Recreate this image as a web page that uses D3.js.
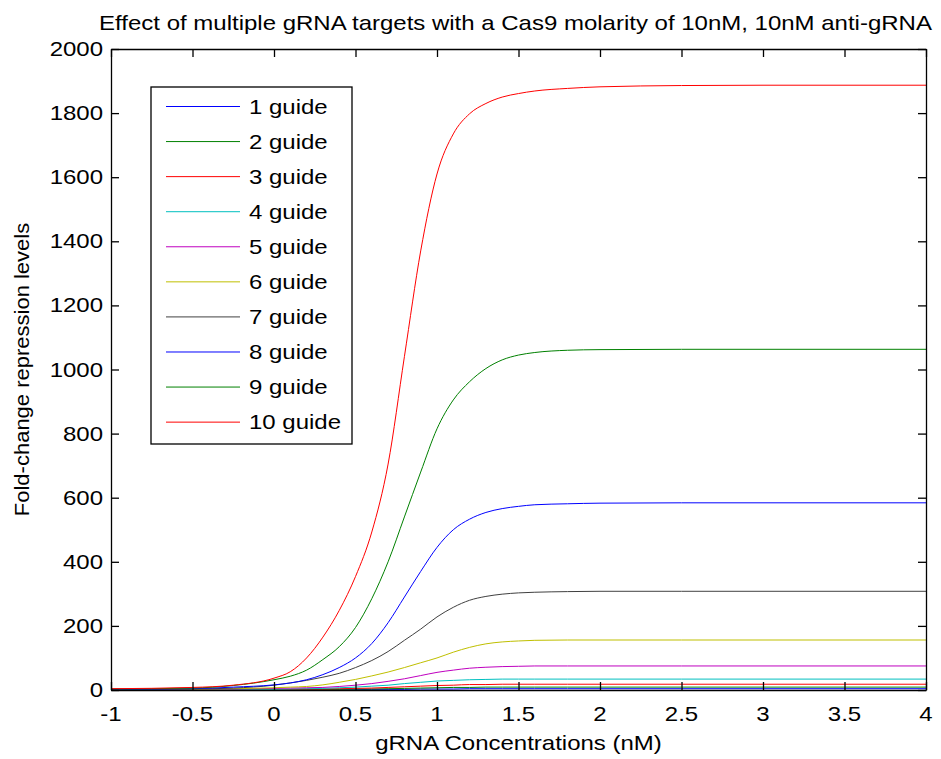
<!DOCTYPE html>
<html>
<head>
<meta charset="utf-8">
<script src="https://cdn.jsdelivr.net/npm/d3@7"></script>
<style>
  html, body { margin: 0; padding: 0; background: #fff; }
  svg { display: block; }
  text { font-family: "Liberation Sans", Arial, sans-serif; fill: #000; }
</style>
</head>
<body>
<svg id="chart" width="941" height="759"></svg>
<script>
// ---- data ----
const titleText = "Effect of multiple gRNA targets with a Cas9 molarity of 10nM, 10nM anti-gRNA";
const xLabel = "gRNA Concentrations (nM)";
const yLabel = "Fold-change repression levels";
const xTicks = [-1, -0.5, 0, 0.5, 1, 1.5, 2, 2.5, 3, 3.5, 4];
const xTickLabels = ["-1", "-0.5", "0", "0.5", "1", "1.5", "2", "2.5", "3", "3.5", "4"];
const yTicks = [0, 200, 400, 600, 800, 1000, 1200, 1400, 1600, 1800, 2000];
const yTickLabels = ["0", "200", "400", "600", "800", "1000", "1200", "1400", "1600", "1800", "2000"];
const seriesNames = ["1 guide", "2 guide", "3 guide", "4 guide", "5 guide", "6 guide", "7 guide", "8 guide", "9 guide", "10 guide"];
const xGrid = [-1, -0.5, -0.25, 0, 0.1, 0.2, 0.3, 0.4, 0.5, 0.6, 0.7, 0.8, 0.9, 1.0, 1.1, 1.2, 1.3, 1.4, 1.5, 1.6, 1.8, 2, 2.5, 3, 4];
const guide1  = [0, 0, 1, 1, 1, 1, 1, 1, 1, 2, 2, 2, 3, 3, 3, 4, 4, 4, 4, 4, 4, 4, 4, 4, 4];
const guide2  = [0, 1, 1, 1, 1, 2, 2, 2, 3, 3, 4, 5, 6, 7, 8, 8, 9, 9, 9, 9, 9, 9, 9, 9, 9];
const guide3  = [1, 1, 1, 2, 2, 3, 3, 4, 5, 6, 8, 10, 12, 14, 15, 17, 17, 18, 18, 18, 18, 18, 18, 18, 18];
const guide4  = [1, 1, 2, 2, 3, 4, 5, 7, 9, 12, 15, 20, 24, 28, 30, 32, 33, 34, 34, 34, 34, 34, 34, 34, 34];
const guide5  = [1, 2, 3, 5, 6, 7, 8, 11, 15, 20, 27, 35, 45, 55, 62, 68, 71, 73, 74, 75, 75, 75, 75, 75, 75];
const guide6  = [1, 2, 4, 7, 9, 11, 16, 24, 33, 44, 56, 70, 85, 100, 118, 133, 144, 150, 153, 155, 156, 156, 156, 156, 156];
const guide7  = [2, 3, 6, 15, 22, 30, 40, 52, 70, 92, 120, 155, 190, 228, 258, 280, 292, 299, 303, 305, 307, 308, 308, 308, 308];
const guide8  = [2, 4, 9, 16, 22, 32, 48, 70, 100, 145, 210, 290, 370, 445, 500, 533, 554, 566, 573, 578, 581, 583, 584, 584, 584];
const guide9  = [3, 6, 14, 32, 43, 62, 95, 135, 195, 285, 400, 540, 680, 815, 905, 962, 1003, 1030, 1045, 1053, 1060, 1062, 1063, 1063, 1063];
const guide10 = [4, 8, 15, 37, 57, 100, 165, 248, 354, 493, 705, 1040, 1370, 1610, 1735, 1798, 1830, 1850, 1861, 1869, 1877, 1882, 1886, 1887, 1887];
const seriesValues = [guide1, guide2, guide3, guide4, guide5, guide6, guide7, guide8, guide9, guide10];

// ---- styles ----
const colors = ["#0000FF", "#008000", "#FF0000", "#00BFBF", "#BF00BF", "#BFBF00", "#404040", "#0000FF", "#008000", "#FF0000"];
const fs = 20;        // font size (glyph height)
const sx = 1.2;       // horizontal glyph stretch seen in the reference
const tickLen = 8;

const svg = d3.select("#chart");
const plot = { left: 111, right: 926, top: 49, bottom: 690 };

const x = d3.scaleLinear().domain([-1, 4]).range([plot.left, plot.right]);
const y = d3.scaleLinear().domain([0, 2000]).range([plot.bottom, plot.top]);

// stretched text helper
function stext(parent, tx, ty, str, anchor, rot) {
  return parent.append("text")
    .attr("transform", `translate(${tx},${ty})` + (rot ? ` rotate(${rot})` : "") + ` scale(${sx},1)`)
    .attr("text-anchor", anchor || "start")
    .attr("font-size", fs)
    .text(str);
}

// lines
const line = d3.line().x(d => x(d[0])).y(d => y(d[1])).curve(d3.curveMonotoneX);
svg.append("defs").append("clipPath").attr("id", "clip")
  .append("rect").attr("x", plot.left).attr("y", plot.top)
  .attr("width", plot.right - plot.left).attr("height", plot.bottom - plot.top);
const lg = svg.append("g").attr("clip-path", "url(#clip)");
seriesValues.forEach((vals, i) => {
  lg.append("path")
    .datum(xGrid.map((xv, j) => [xv, vals[j]]))
    .attr("d", line)
    .attr("fill", "none")
    .attr("stroke", colors[i])
    .attr("stroke-width", 1);
});

// axes (MATLAB-like box with inward ticks)
const axBottom = d3.axisBottom(x).tickValues(xTicks).tickFormat("").tickSizeInner(-tickLen).tickSizeOuter(0);
const axTop = d3.axisTop(x).tickValues(xTicks).tickFormat("").tickSizeInner(-tickLen).tickSizeOuter(0);
const axLeft = d3.axisLeft(y).tickValues(yTicks).tickFormat("").tickSizeInner(-tickLen).tickSizeOuter(0);
const axRight = d3.axisRight(y).tickValues(yTicks).tickFormat("").tickSizeInner(-tickLen).tickSizeOuter(0);

function styleAxis(g) {
  g.selectAll("path.domain").attr("stroke", "#000").attr("stroke-width", 1.3);
  g.selectAll(".tick line").attr("stroke", "#000").attr("stroke-width", 1.3);
  g.selectAll(".tick text").remove();
}
svg.append("g").attr("transform", `translate(0,${plot.bottom})`).call(axBottom).call(styleAxis);
svg.append("g").attr("transform", `translate(0,${plot.top})`).call(axTop).call(styleAxis);
svg.append("g").attr("transform", `translate(${plot.left},0)`).call(axLeft).call(styleAxis);
svg.append("g").attr("transform", `translate(${plot.right},0)`).call(axRight).call(styleAxis);

// tick labels
const tl = svg.append("g");
xTicks.forEach((v, i) => stext(tl, x(v), 721, xTickLabels[i], "middle"));
yTicks.forEach((v, i) => stext(tl, plot.left - 8, y(v) + 7, yTickLabels[i], "end"));

// title and labels
const cx = (plot.left + plot.right) / 2;
stext(svg, cx - 3, 30, titleText, "middle");
stext(svg, cx, 750, xLabel, "middle");
svg.append("text")
  .attr("transform", `translate(29,${(plot.top + plot.bottom) / 2}) rotate(-90) scale(1.1,1)`)
  .attr("text-anchor", "middle").attr("font-size", fs).text(yLabel);

// legend
const leg = { x: 151, y: 87, w: 201, h: 357, rowY0: 106.5, rowDy: 35.07, lineX0: 166, lineX1: 240, textX: 249 };
svg.append("rect").attr("x", leg.x).attr("y", leg.y).attr("width", leg.w).attr("height", leg.h)
  .attr("fill", "#fff").attr("stroke", "#000").attr("stroke-width", 1.3);
seriesNames.forEach((name, i) => {
  const yy = leg.rowY0 + i * leg.rowDy;
  svg.append("line").attr("x1", leg.lineX0).attr("x2", leg.lineX1).attr("y1", yy).attr("y2", yy)
    .attr("stroke", colors[i]).attr("stroke-width", 1);
  stext(svg, leg.textX, yy + 7, name, "start");
});
</script>
</body>
</html>
